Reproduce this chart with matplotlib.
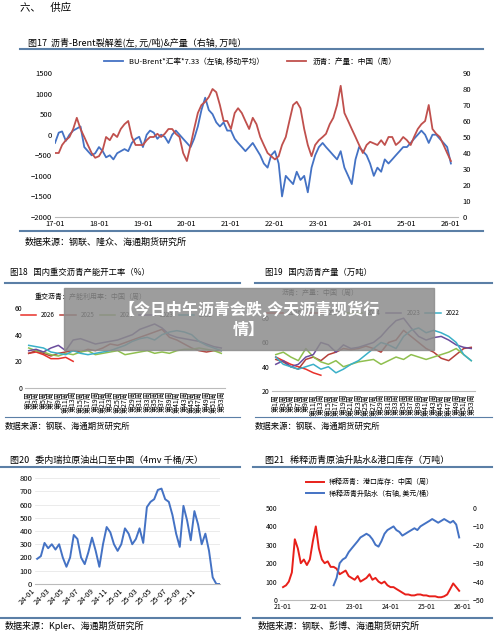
import numpy as np
import pandas as pd
import matplotlib
matplotlib.use("Agg")
import matplotlib.pyplot as plt
from matplotlib.patches import Rectangle

plt.rcParams['font.family'] = ['Noto Sans CJK SC', 'DejaVu Sans']

BLUE = "#4472c4"
RED = "#c0504d"
LINE = "#5b7fa6"

# Figure 17: monthly 2017-01 .. 2026-01
f17_blue = [-200, 50, 80, -150, 0, 100, 150, 200, -300, -400, -500, -450,
            -300, -400, -550, -500, -600, -450, -400, -350, -400, -200, -100, -50,
            -300, 0, 100, 50, -100, 0, -50, -200, 0, 100, 0, -100,
            -200, -300, -100, 200, 600, 900, 600, 500, 300, 200, 300, 100,
            100, -100, -200, -300, -400, -300, -200, -350, -500, -700, -800, -500,
            -400, -700, -1500, -1000, -1100, -1200, -900, -1100, -1000, -1400, -800, -500,
            -300, -200, -300, -400, -500, -600, -400, -800, -1000, -1200, -600, -300,
            -400, -500, -700, -1000, -800, -900, -600, -700, -600, -500, -400, -300,
            -300, -200, -100, 0, 100, 0, -200, 0, 0, -100, -200, -300,
            -700]
f17_red = [40, 40, 45, 48, 50, 55, 62, 55, 50, 45, 40, 37,
           38, 42, 50, 48, 52, 50, 55, 58, 60, 50, 45, 45,
           45, 48, 50, 50, 52, 50, 52, 55, 55, 52, 50, 40,
           35, 45, 55, 65, 70, 72, 75, 80, 78, 70, 60, 60,
           55, 65, 68, 65, 60, 55, 62, 58, 50, 45, 40, 38,
           36, 38, 45, 50, 60, 70, 72, 68, 55, 45, 38, 45,
           48, 50, 52, 58, 62, 70, 82, 65, 60, 55, 50, 45,
           40, 45, 47, 46, 45, 48, 45, 50, 50, 45, 47, 50,
           48, 45, 50, 55, 58, 60, 70, 55, 52, 50, 45, 40,
           35]
f17_years = ["17-01", "18-01", "19-01", "20-01", "21-01", "22-01", "23-01", "24-01", "25-01", "26-01"]

# Figure 18 / 19: every second week, week 1..53
weeks = [f"第{w}周" for w in range(1, 54, 2)]
f18 = {
    "2026": [26, 27, 25, 22, 22, 23, 20],
    "2025": [26, 28, 26, 24, 26, 27, 28, 27, 29, 28, 30, 33, 32, 34, 36, 38, 40, 42, 44, 38, 36, 33, 30, 28, 27, 28, 28],
    "2024": [30, 28, 27, 25, 24, 26, 25, 27, 28, 25, 26, 27, 28, 25, 26, 27, 28, 26, 27, 26, 28, 29, 29, 30, 29, 28, 26],
    "2023": [28, 29, 27, 30, 32, 28, 36, 37, 35, 33, 34, 35, 36, 38, 40, 44, 46, 48, 45, 40, 38, 37, 36, 35, 33, 31, 30],
    "2022": [32, 31, 30, 27, 26, 25, 28, 26, 25, 26, 27, 28, 30, 32, 35, 37, 38, 36, 40, 42, 43, 42, 40, 35, 32, 30, 28],
}
f19 = {
    "2026": [48, 45, 42, 40, 38, 35, 33],
    "2025": [46, 44, 40, 38, 46, 48, 45, 50, 52, 55, 54, 55, 57, 55, 52, 60, 62, 70, 65, 60, 55, 52, 47, 45, 50, 55, 56],
    "2024": [50, 52, 48, 45, 55, 48, 44, 42, 45, 40, 42, 44, 45, 46, 42, 45, 48, 46, 50, 48, 46, 48, 50, 52, 55, 50, 45],
    "2023": [42, 45, 40, 42, 48, 50, 60, 58, 52, 58, 55, 56, 58, 60, 65, 72, 78, 80, 72, 65, 62, 64, 65, 62, 58, 56, 55],
    "2022": [48, 42, 40, 38, 40, 42, 38, 40, 35, 38, 42, 45, 50, 55, 60, 58, 55, 65, 70, 72, 68, 70, 68, 65, 60, 50, 45],
}
year_colors = {"2026": "#e8302a", "2025": "#b5403a", "2024": "#8fbf4f", "2023": "#6a4c9c", "2022": "#3ab0c8"}

# Figure 20: half-monthly from 2024-01
f20 = [190, 210, 310, 270, 300, 260, 300, 200, 130, 200, 370, 340, 200, 150, 240, 350,
       250, 130, 300, 430, 390, 300, 250, 300,
       420, 380, 300, 340, 420, 310, 580, 620, 640, 710, 720, 640, 620, 520, 380, 280,
       590, 480, 330, 550, 450, 300, 380, 250, 50, 0, 0]
f20_ticks = ["24-01", "24-03", "24-05", "24-07", "24-09", "24-11",
             "25-01", "25-03", "25-05", "25-07", "25-09", "25-11"]

# Figure 21: monthly
f21_red = [70, 80, 100, 150, 330, 280, 200, 220, 190, 220, 320, 400,
           280, 220, 200, 210, 180, 180, 170, 140, 150, 160, 130, 120,
           110, 130, 100, 110, 120, 140, 110, 120, 100, 90, 100, 80,
           70, 70, 60, 50, 40, 30, 30, 25, 25, 30, 30, 25,
           25, 20, 20, 20, 15, 15, 20, 30, 60, 90, 70, 50]
f21_blue = [-42, -38, -30, -28, -27, -24, -22,
            -20, -18, -16, -15, -14, -15, -17, -20, -21, -18, -14, -12,
            -11, -10, -12, -13, -15, -14, -13, -12, -11, -12, -10, -9,
            -8, -7, -6, -7, -8, -7, -6, -7, -8, -7, -9, -16]
f21_ticks = ["21-01", "22-01", "23-01", "24-01", "25-01", "26-01"]

W, H = 500, 640
fig = plt.figure(figsize=(5, 6.4), dpi=100)


def px_axes(l, t, r, b):
    return fig.add_axes([l / W, 1 - b / H, (r - l) / W, (b - t) / H])


def txt(x, y, s, size=6.5, **kw):
    fig.text(x / W, 1 - y / H, s, fontsize=size, va="center", **kw)


def hline(x0, x1, y, lw=1.5):
    fig.add_artist(plt.Line2D([x0 / W, x1 / W], [1 - y / H, 1 - y / H], color=LINE, lw=lw))


def style(ax, size=5):
    for s in ["top", "right", "left"]:
        ax.spines[s].set_visible(False)
    ax.spines["bottom"].set_color("#bbbbbb")
    ax.tick_params(labelsize=size, length=0, pad=2)
    ax.grid(axis="y", color="#e3e3e3", lw=0.5)
    ax.set_axisbelow(True)


txt(20, 8, "六、    供应", 7.5)

# ---- Figure 17
txt(28, 42, "图17  沥青-Brent裂解差(左, 元/吨)&产量（右轴, 万吨）", 6.5)
hline(20, 483, 49)
ax = px_axes(55, 73, 458, 217)
x17 = pd.date_range("2017-01-01", periods=len(f17_blue), freq="MS")
ax.plot(x17, f17_blue, color=BLUE, lw=1.3, label="BU-Brent*汇率*7.33（左轴, 移动平均）")
ax.set_ylim(-2000, 1500)
ax.set_yticks(range(-2000, 1501, 500))
ax.set_xlim(pd.Timestamp("2017-01-01"), pd.Timestamp("2026-03-01"))
ax.set_xticks(pd.to_datetime(["20" + y[:2] + "-01-01" for y in f17_years]))
ax.set_xticklabels(f17_years)
style(ax, 5.5)
ax.grid(False)
ax2 = ax.twinx()
ax2.plot(x17, f17_red, color=RED, lw=1.3, label="沥青：产量：中国（周）")
ax2.set_ylim(0, 90)
ax2.set_yticks(range(0, 91, 10))
for s in ["top", "right", "left", "bottom"]:
    ax2.spines[s].set_visible(False)
ax2.tick_params(labelsize=5.5, length=0)
h1, l1 = ax.get_legend_handles_labels()
h2, l2 = ax2.get_legend_handles_labels()
fig.legend(h1 + h2, l1 + l2, loc="center", bbox_to_anchor=(0.5, 1 - 62 / H), ncol=2,
           frameon=False, fontsize=5.5, handlelength=2.5, columnspacing=3)
hline(20, 483, 231)
txt(25, 242, "数据来源：钢联、隆众、海通期货研究所", 6.5)


def weekly(ax, data, ylim, yticks, header, leg_y, head_y):
    for k, v in data.items():
        ax.plot(range(len(v)), v, color=year_colors[k], lw=1.1, label=k)
    ax.set_ylim(*ylim)
    ax.set_yticks(yticks)
    ax.set_xlim(-0.5, len(weeks) - 0.5)
    ax.set_xticks(range(len(weeks)))
    ax.set_xticklabels(weeks, rotation=90, fontsize=3)
    style(ax, 5)
    ax.grid(False)
    ax.legend(loc="center left", bbox_to_anchor=(-0.05, leg_y), ncol=5, frameon=False,
              fontsize=4.5, handlelength=2.5, columnspacing=0.8)
    ax.text(0.05, head_y, header, transform=ax.transAxes, fontsize=5, va="center")


# ---- Figure 18
txt(10, 272, "图18   国内重交沥青产能开工率（%）", 6)
hline(5, 240, 283)
weekly(px_axes(25, 300, 225, 388), f18, (0, 66), [0, 20, 40, 60],
       "重交沥青：产能利用率：中国（周）", 0.83, 1.03)
hline(5, 240, 417, 0.8)
txt(5, 426, "数据来源：钢联、海通期货研究所", 6)

# ---- Figure 19
txt(265, 272, "图19   国内沥青产量（万吨）", 6)
hline(255, 492, 283)
weekly(px_axes(272, 300, 475, 391), f19, (20, 95), [20, 40, 60, 80],
       "沥青：产量：中国（周）", 0.857, 1.08)
hline(255, 492, 417, 0.8)
txt(255, 426, "数据来源：钢联、海通期货研究所", 6)

# ---- Figure 20
txt(10, 460, "图20   委内瑞拉原油出口至中国（4mv 千桶/天）", 6.5)
hline(0, 240, 467)
ax = px_axes(35, 478, 220, 584)
ax.plot(np.arange(len(f20)) * 0.5, f20, color=BLUE, lw=1.4)
ax.set_ylim(0, 800)
ax.set_yticks(range(0, 801, 100))
ax.set_xlim(-0.3, 25)
ax.set_xticks(range(0, 24, 2))
ax.set_xticklabels(f20_ticks, rotation=45, ha="right", fontsize=5)
style(ax, 5.5)
hline(0, 240, 618)
txt(5, 626, "数据来源：Kpler、海通期货研究所", 6.5)

# ---- Figure 21
txt(265, 460, "图21   稀释沥青原油升贴水&港口库存（万吨）", 6.5)
hline(253, 492, 467)
ax = px_axes(280, 508, 468, 600)
x21r = pd.date_range("2021-01-01", periods=len(f21_red), freq="MS")
x21b = pd.date_range("2022-06-01", periods=len(f21_blue), freq="MS")
ax.plot(x21r, f21_red, color="#e8201a", lw=1.4, label="稀释沥青：港口库存：中国（周）")
ax.set_ylim(0, 500)
ax.set_yticks(range(0, 501, 100))
ax.set_xlim(pd.Timestamp("2020-12-01"), pd.Timestamp("2026-03-01"))
ax.set_xticks(pd.to_datetime(["20" + t[:2] + "-01-01" for t in f21_ticks]))
ax.set_xticklabels(f21_ticks)
style(ax, 5)
ax.grid(False)
ax2 = ax.twinx()
ax2.plot(x21b, f21_blue, color=BLUE, lw=1.4, label="稀释沥青升贴水（右轴, 美元/桶）")
ax2.set_ylim(-50, 0)
ax2.set_yticks(range(-50, 1, 10))
for s in ["top", "right", "left", "bottom"]:
    ax2.spines[s].set_visible(False)
ax2.tick_params(labelsize=5, length=0)
h1, l1 = ax.get_legend_handles_labels()
h2, l2 = ax2.get_legend_handles_labels()
fig.legend(h1 + h2, l1 + l2, loc="upper left", bbox_to_anchor=(300 / W, 1 - 472 / H),
           frameon=False, fontsize=5, handlelength=2.5)
hline(253, 492, 618)
txt(258, 626, "数据来源：钢联、彭博、海通期货研究所", 6.5)

# ---- overlay banner
fig.add_artist(Rectangle((64 / W, 1 - 350 / H), 370 / W, 62 / H, transform=fig.transFigure,
                         color="#8c8c8c", alpha=0.85, zorder=10))
fig.text(249 / W, 1 - 319 / H, "【今日中午沥青会跌,今天沥青现货行\n情】", fontsize=11.5,
         color="white", weight="bold", ha="center", va="center", zorder=11, linespacing=1.3)

fig.savefig("out.png", dpi=100, facecolor="white")
